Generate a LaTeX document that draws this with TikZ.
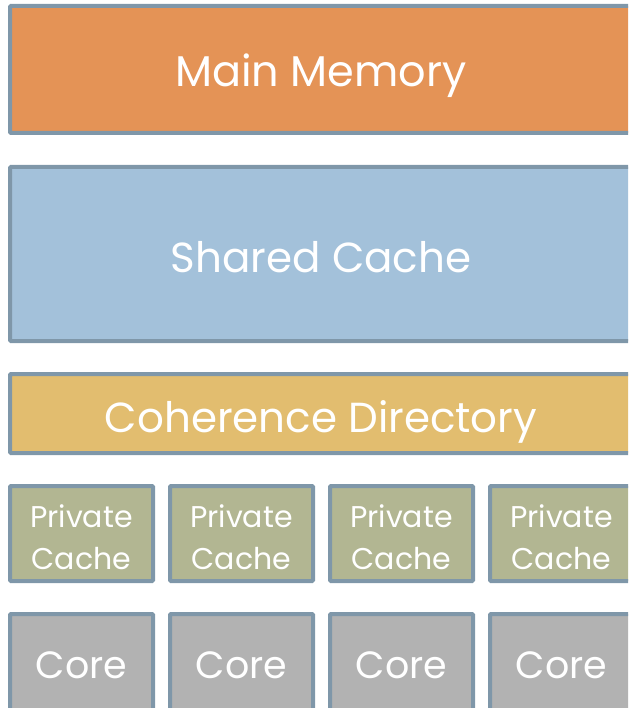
\documentclass[tikz,border=0pt]{standalone}
\usepackage{fontspec}
\setmainfont{Poppins}
\definecolor{memorange}{HTML}{E49356}
\definecolor{sharedblue}{HTML}{A3C1DA}
\definecolor{dirgold}{HTML}{E2BD6F}
\definecolor{privolive}{HTML}{B2B692}
\definecolor{coregrey}{HTML}{B2B2B2}
\definecolor{edgeblue}{HTML}{7F97A9}
\tikzset{
	layer/.style={draw=edgeblue, line width=4pt, rounded corners=1pt, text=white, align=center, inner sep=0pt, text depth=0pt},
}
\begin{document}
\begin{tikzpicture}[x=1pt,y=-1pt]
	\useasboundingbox (0,0) rectangle (628,708);
	\clip (0,0) rectangle (628,708);
	\node[layer, fill=memorange, minimum width=622pt, minimum height=127pt, text height=35pt, font=\fontsize{43}{44}\selectfont] (mem) at (321,69.5) {Main Memory};
	\node[layer, fill=sharedblue, minimum width=622pt, minimum height=174pt, text height=36pt, font=\fontsize{42}{44}\selectfont] (shared) at (321,254) {Shared Cache};
	\node[layer, fill=dirgold, minimum width=622pt, minimum height=79pt, text height=37pt, font=\fontsize{42}{44}\selectfont] (dir) at (321,413.5) {Coherence Directory};
	\foreach \i in {0,...,3}{
		\node[layer, fill=privolive, minimum width=143pt, minimum height=95pt, text height=71pt, font=\fontsize{30}{42}\selectfont] (priv\i) at (81.5+160*\i,533.5) {Private\\Cache};
		\node[layer, fill=coregrey, minimum width=143pt, minimum height=104pt, text height=24pt, font=\fontsize{38}{40}\selectfont] (core\i) at (81.5+160*\i,666) {Core};
	}
\end{tikzpicture}
\end{document}
